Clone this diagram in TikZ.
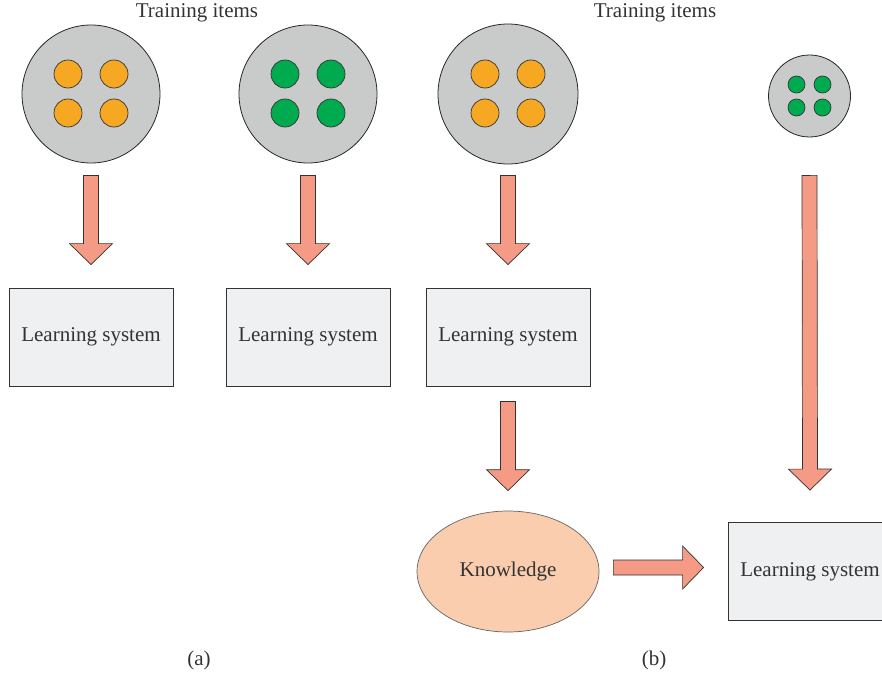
\documentclass[tikz,border=0pt]{standalone}
\usepackage{fontspec}
\setmainfont{Liberation Serif}
\usepackage{xcolor}
\usetikzlibrary{calc,shapes.geometric}

\definecolor{itemgray}{HTML}{C9CACA}
\definecolor{itemorange}{HTML}{F7A823}
\definecolor{itemgreen}{HTML}{00AA4F}
\definecolor{arrowsalmon}{HTML}{F59A85}
\definecolor{boxgray}{HTML}{EFF0F2}
\definecolor{knowpeach}{HTML}{F9CDAD}
\definecolor{textgray}{HTML}{333333}

\tikzset{
    item-set/.style = {draw=black!85, fill=itemgray, circle, line width=0.8pt, inner sep=0pt},
    item-dot/.style = {draw=black!80, circle, line width=0.7pt, inner sep=0pt},
    learn-box/.style = {draw=black!80, fill=boxgray, line width=0.8pt, rectangle, minimum width=164pt, minimum height=98pt, text=textgray, font=\fontsize{21}{25}\selectfont},
    know-blob/.style = {draw=black!60, fill=knowpeach, ellipse, line width=0.7pt, minimum width=182pt, minimum height=121pt, text=textgray, font=\fontsize{21}{25}\selectfont},
    plain-label/.style = {text=textgray, font=\fontsize{21}{25}\selectfont},
    fat-arrow/.style = {draw=black!80, fill=arrowsalmon, line width=0.7pt, line join=miter},
}

% block arrow from #1 to #2
\newcommand{\fatarrow}[2]{
    \coordinate (fa-s) at (#1);
    \coordinate (fa-e) at (#2);
    \coordinate (fa-h) at ($(fa-e)!21pt!(fa-s)$);
    \draw[fat-arrow] ($(fa-s)!7.5pt!90:(fa-e)$) -- ($(fa-h)!7.5pt!-90:(fa-s)$)
        -- ($(fa-h)!21.5pt!-90:(fa-s)$) -- (fa-e) -- ($(fa-h)!21.5pt!90:(fa-s)$)
        -- ($(fa-h)!7.5pt!90:(fa-s)$) -- ($(fa-s)!7.5pt!-90:(fa-e)$) -- cycle;
}

\begin{document}
\begin{tikzpicture}[x=1pt,y=-1pt]
\useasboundingbox (0,0) rectangle (882,674);

% titles
\node[plain-label] (title-a) at (197,13) {Training items};
\node[plain-label] (title-b) at (655,13) {Training items};

% item sets
\node[item-set, minimum size=138pt] (set1) at (91,94) {};
\node[item-set, minimum size=138pt] (set2) at (308,94) {};
\node[item-set, minimum size=140pt] (set3) at (508,94) {};
\node[item-set, minimum size=82pt] (set4) at (809.5,96) {};

\foreach \dx in {-23,23}
  \foreach \dy in {-20,19} {
    \node[item-dot, fill=itemorange, minimum size=28pt] at ($(set1)+(\dx,\dy)$) {};
    \node[item-dot, fill=itemgreen, minimum size=28pt] at ($(set2)+(\dx,\dy)$) {};
    \node[item-dot, fill=itemorange, minimum size=28pt] at ($(set3)+(\dx,\dy)$) {};
  }
\foreach \dx in {-13,13}
  \foreach \dy in {-11.5,11.5}
    \node[item-dot, fill=itemgreen, minimum size=17pt] at ($(set4)+(\dx,\dy)$) {};

% learning systems
\node[learn-box] (learn1) at (91,337) {Learning system};
\node[learn-box] (learn2) at (308,337) {Learning system};
\node[learn-box] (learn3) at (508,337) {Learning system};
\node[learn-box] (learn4) at (810,571.5) {Learning system};
\node[know-blob] (know) at (508,571.5) {Knowledge};

% arrows
\fatarrow{$(set1.south)+(0,12)$}{$(learn1.north)+(0,-23)$}
\fatarrow{$(set2.south)+(0,12)$}{$(learn2.north)+(0,-23)$}
\fatarrow{$(set3.south)+(0,11)$}{$(learn3.north)+(0,-23)$}
\fatarrow{$(learn3.south)+(0,15)$}{$(know.north)+(0,-20)$}
\fatarrow{$(set4.south)+(0,38)$}{$(learn4.north)+(0,-32)$}
\fatarrow{$(know.east)+(14,-4)$}{$(learn4.west)+(-24,-4)$}

% captions
\node[plain-label] (cap-a) at (199,660) {(a)};
\node[plain-label] (cap-b) at (654,660) {(b)};
\end{tikzpicture}
\end{document}
